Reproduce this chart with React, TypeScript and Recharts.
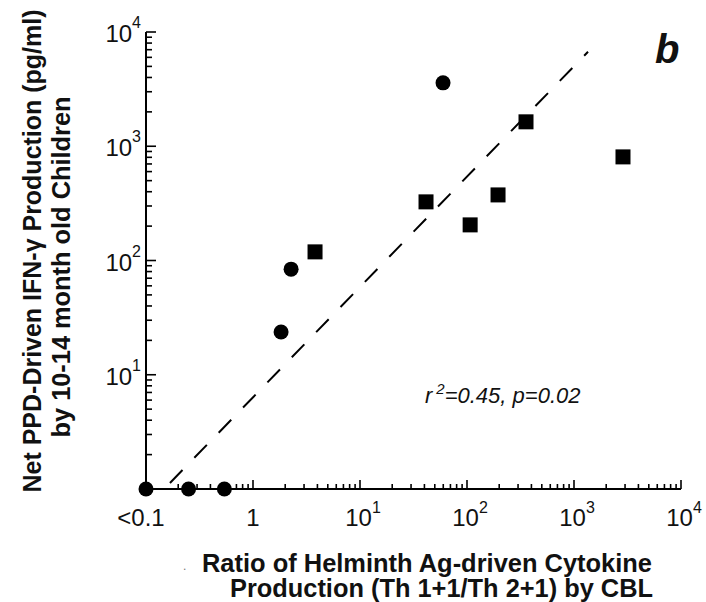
import React from 'react';
import { ScatterChart, Scatter, XAxis, YAxis, ReferenceLine } from 'recharts';

// ---- data ----
const circleX = [0.1, 0.25, 0.54, 1.83, 2.27, 59.7];
const circleY = [1, 1, 1, 23.7, 84, 3590];
const squareX = [3.8, 41.4, 107, 195, 356, 2870];
const squareY = [119, 326, 205, 375, 1636, 807];
const fitStart = { x: 0.1675, y: 1.13 };
const fitEnd = { x: 1352, y: 6710 };

const xMajor = [0.1, 1, 10, 100, 1000, 10000];
const xTickBase = ['<0.1', '1', '10', '10', '10', '10'];
const xTickExp = ['', '', '1', '2', '3', '4'];
const yMajor = [1, 10, 100, 1000, 10000];
const yTickBase = ['', '10', '10', '10', '10'];
const yTickExp = ['', '1', '2', '3', '4'];

const yTitle1 = 'Net PPD-Driven IFN-\u03B3 Production (pg/ml)';
const yTitle2 = 'by 10-14 month old Children';
const xTitle1 = 'Ratio of Helminth Ag-driven Cytokine';
const xTitle2 = 'Production (Th 1+1/Th 2+1) by CBL';
const statBase = 'r';
const statExp = '2';
const statRest = '=0.45, p=0.02';
const panelLetter = 'b';

const circles = circleX.map((x, i) => ({ x, y: circleY[i] }));
const squares = squareX.map((x, i) => ({ x, y: squareY[i] }));

function logTicks(majors: number[]): number[] {
  const out: number[] = [];
  majors.forEach((m, i) => {
    out.push(m);
    if (i < majors.length - 1) {
      for (let k = 2; k <= 9; k++) out.push(parseFloat((m * k).toPrecision(6)));
    }
  });
  return out;
}
const xTicks = logTicks(xMajor);
const yTicks = logTicks(yMajor);

const FONT = '"Liberation Sans", Arial, Helvetica, sans-serif';

const renderXTick = (props: any) => {
  const { x, y, payload, index } = props;
  const idx = xMajor.indexOf(payload.value);
  const major = idx >= 0;
  const shift = idx === 0 ? -5 : xTickExp[idx] ? 3 : 0;
  return (
    <g key={`xt-${index}`}>
      <line x1={x} y1={y} x2={x} y2={y - (major ? 9 : 5)} stroke="#000" strokeWidth={1.6} />
      {major && (
        <text x={x + shift} y={y + 37} textAnchor="middle" fontSize={24} fontFamily={FONT} fill="#111">
          {xTickBase[idx]}
          {xTickExp[idx] ? (
            <tspan dy={-13} fontSize={16}>
              {xTickExp[idx]}
            </tspan>
          ) : null}
        </text>
      )}
    </g>
  );
};

const renderYTick = (props: any) => {
  const { x, y, payload, index } = props;
  const idx = yMajor.indexOf(payload.value);
  const major = idx >= 0;
  return (
    <g key={`yt-${index}`}>
      <line x1={x} y1={y} x2={x + (major ? 10 : 6)} y2={y} stroke="#000" strokeWidth={1.6} />
      {major && yTickBase[idx] ? (
        <text x={x - 5} y={y + 10} textAnchor="end" fontSize={24} fontFamily={FONT} fill="#111">
          {yTickBase[idx]}
          <tspan dy={-14} fontSize={16}>
            {yTickExp[idx]}
          </tspan>
        </text>
      ) : null}
    </g>
  );
};

const renderYTitle = () => (
  <g fontFamily={FONT} fill="#111" fontWeight="bold" fontSize={25}>
    <text transform="translate(41,251) rotate(-90)" textAnchor="middle" textLength={483} lengthAdjust="spacingAndGlyphs">
      {yTitle1}
    </text>
    <text transform="translate(70,267) rotate(-90)" textAnchor="middle" textLength={341} lengthAdjust="spacingAndGlyphs">
      {yTitle2}
    </text>
  </g>
);

const renderXTitle = () => (
  <g>
    <g fontFamily={FONT} fill="#111" fontWeight="bold" fontSize={25}>
      <text x={202} y={572} textLength={450} lengthAdjust="spacingAndGlyphs">
        {xTitle1}
      </text>
      <text x={230} y={597} textLength={423} lengthAdjust="spacingAndGlyphs">
        {xTitle2}
      </text>
    </g>
    <text x={183} y={570} fontFamily={FONT} fontSize={12} fill="#777">.</text>
    <text x={425} y={403} fontFamily={FONT} fontStyle="italic" fontSize={22} fill="#111">
      {statBase}
      <tspan dx={4} dy={-9} fontSize={15}>
        {statExp}
      </tspan>
      <tspan dy={9}>{statRest}</tspan>
    </text>
    <text x={655} y={63} fontFamily={FONT} fontStyle="italic" fontWeight="bold" fontSize={40} fill="#111">
      {panelLetter}
    </text>
  </g>
);

const CircleShape = (props: any) => <circle cx={props.cx} cy={props.cy} r={7.5} fill="#000" />;
const SquareShape = (props: any) => (
  <rect x={props.cx - 7.5} y={props.cy - 7.5} width={15} height={15} fill="#000" />
);

export default function App() {
  return (
    <div style={{ position: 'absolute', left: 0, top: 0, width: 706, height: 602, background: '#fff' }}>
      <ScatterChart width={706} height={602} margin={{ top: 32, right: 25, bottom: 73, left: 86 }}>
        <XAxis
          type="number"
          dataKey="x"
          scale="log"
          domain={[0.1, 10000]}
          ticks={xTicks}
          interval={0}
          height={40}
          tickSize={0}
          tickMargin={0}
          tickLine={false}
          axisLine={{ stroke: '#000', strokeWidth: 2 }}
          tick={renderXTick}
          label={renderXTitle}
        />
        <YAxis
          type="number"
          dataKey="y"
          scale="log"
          domain={[1, 10000]}
          ticks={yTicks}
          interval={0}
          width={60}
          tickSize={0}
          tickMargin={0}
          tickLine={false}
          axisLine={{ stroke: '#000', strokeWidth: 2 }}
          tick={renderYTick}
          label={renderYTitle}
        />
        <ReferenceLine
          segment={[fitStart, fitEnd]}
          stroke="#000"
          strokeWidth={2}
          strokeDasharray="18 17"
          ifOverflow="visible"
        />
        <Scatter data={circles} shape={CircleShape} isAnimationActive={false} />
        <Scatter data={squares} shape={SquareShape} isAnimationActive={false} />
      </ScatterChart>
    </div>
  );
}
